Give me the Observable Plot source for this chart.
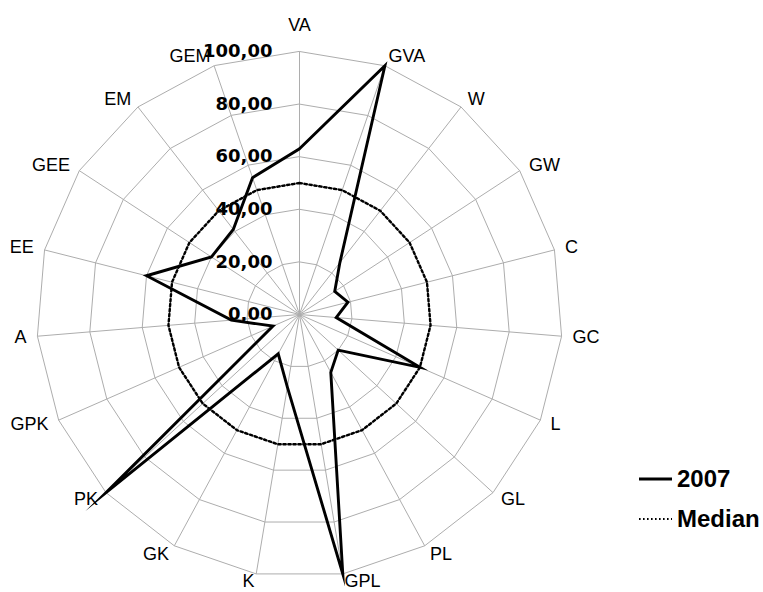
<!DOCTYPE html>
<html>
<head>
<meta charset="utf-8">
<script src="https://cdn.jsdelivr.net/npm/d3@7"></script>
<script src="https://cdn.jsdelivr.net/npm/@observablehq/plot@0.6"></script>
<style>
  html, body { margin: 0; padding: 0; background: #fff; }
  #wrap { position: relative; width: 763px; height: 592px; overflow: hidden; }
  #legend { position: absolute; left: 639px; top: 463px; font-family: "Liberation Sans", Arial, sans-serif; font-weight: bold; font-size: 24px; color: #000; }
  .row { display: flex; align-items: center; height: 32px; margin-bottom: 8px; }
  .row svg { margin-right: 5px; }
</style>
</head>
<body>
<div id="wrap"><div id="chart"></div><div id="legend"></div></div>
<script>
// ---- data ----
const categories = ["VA","GVA","W","GW","C","GC","L","GL","PL","GPL","K","GK","PK","GPK","A","EE","GEE","EM","GEM"];
const values2007 = [63,100,25,16,19,14,50,20,25,100,28,17,100,11,26,60,40,41,55];
const medianValues = [50,50,50,50,50,50,50,50,50,50,50,50,50,50,50,50,50,50,50];
const ringValues = [20,40,60,80,100];
const tickValues = [0,20,40,60,80,100];
const tickLabels = ["0,00","20,00","40,00","60,00","80,00","100,00"];
const seriesNames = ["2007","Median"];

// ---- layout ----
const W = 763, H = 592, cx = 299, cy = 314, K = 2.63; // px per value unit
const n = categories.length;
const ang = i => i * 2 * Math.PI / n;
const pt = (v, i) => ({x: v * Math.sin(ang(i)), y: v * Math.cos(ang(i))});
const maxV = ringValues[ringValues.length - 1];

const rings = ringValues.flatMap(r => categories.map((c, i) => ({ring: r, ...pt(r, i)})));
const spokes = categories.map((c, i) => ({cat: c, ...pt(maxV, i)}));
const s2007 = values2007.map((v, i) => ({cat: categories[i], v, ...pt(v, i)}));
const sMed = medianValues.map((v, i) => ({cat: categories[i], v, ...pt(v, i)}));
const labels = categories.map((c, i) => {
  const s = Math.sin(ang(i)), co = Math.cos(ang(i));
  const vOff = co < -0.95 ? 7.5 : 10;
  return {cat: c, s, x: (maxV + 11 / K) * s, y: maxV * co + (vOff / K) * co};
});
const ticks = tickValues.map((v, i) => ({v, label: tickLabels[i]}));

const labelFont = {fontFamily: "Liberation Sans, Arial, sans-serif", fontSize: 18, fill: "#000"};

const chart = Plot.plot({
  width: W, height: H, margin: 0,
  x: {domain: [-cx / K, (W - cx) / K], axis: null},
  y: {domain: [-(H - cy) / K, cy / K], axis: null},
  marks: [
    Plot.line(rings, {x: "x", y: "y", z: "ring", curve: "linear-closed", stroke: "#adadad", strokeWidth: 1}),
    Plot.link(spokes, {x1: d => 0, y1: d => 0, x2: "x", y2: "y", stroke: "#adadad", strokeWidth: 1}),
    Plot.line(sMed, {x: "x", y: "y", curve: "linear-closed", stroke: "#000", strokeWidth: 2.4, strokeDasharray: "2.4,2.6"}),
    Plot.line(s2007, {x: "x", y: "y", curve: "linear-closed", stroke: "#000", strokeWidth: 2.9, strokeLinejoin: "miter", strokeMiterlimit: 20}),
    Plot.text(labels.filter(d => d.s > 0.01), {x: "x", y: "y", text: "cat", textAnchor: "start", ...labelFont}),
    Plot.text(labels.filter(d => d.s < -0.01), {x: "x", y: "y", text: "cat", textAnchor: "end", ...labelFont}),
    Plot.text(labels.filter(d => Math.abs(d.s) <= 0.01), {x: "x", y: d => maxV, text: "cat", textAnchor: "middle", dy: -26, ...labelFont}),
    Plot.text(ticks, {x: d => 0, y: "v", text: "label", textAnchor: "end", dx: -27, fontFamily: "DejaVu Sans, sans-serif", fontWeight: "bold", fontSize: 18, fill: "#000"})
  ]
});
document.getElementById("chart").appendChild(chart);

// legend
const legend = document.getElementById("legend");
seriesNames.forEach((name, i) => {
  const row = document.createElement("div");
  row.className = "row";
  const dash = i === 0 ? "" : "stroke-dasharray='1.6,2.4'";
  const sw = i === 0 ? 2.9 : 2.0;
  row.innerHTML = `<svg width="33" height="10"><line x1="0" x2="33" y1="5" y2="5" stroke="#000" stroke-width="${sw}" ${dash}/></svg><span>${name}</span>`;
  legend.appendChild(row);
});
</script>
</body>
</html>
